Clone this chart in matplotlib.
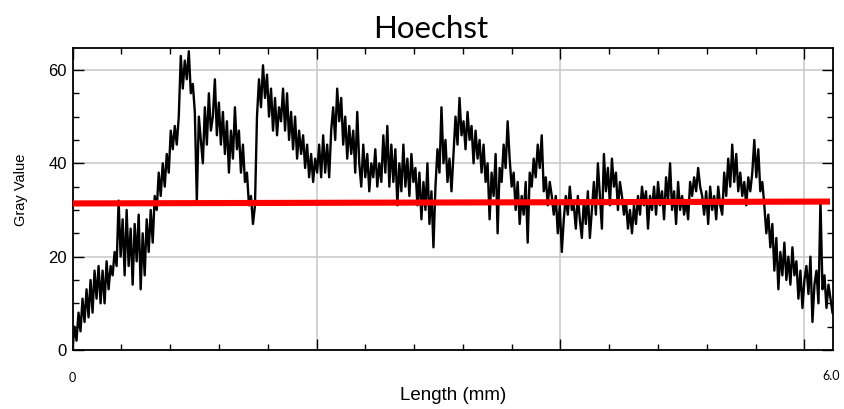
import numpy as np
import matplotlib
matplotlib.use("Agg")
import matplotlib.pyplot as plt
from matplotlib.ticker import MultipleLocator

# Gray value profile in ~2 px steps, split by segment
seg1 = [0.5, 5, 2, 8, 4, 11, 6, 13, 7, 15, 8, 17, 11, 18, 10, 17, 10, 19, 13, 18,
        16, 21, 18, 32, 20, 28, 16, 30, 18, 26, 14, 27, 19, 29, 13, 25, 16, 28, 21, 30,
        23, 33, 30, 38, 33, 40, 35, 42, 38, 47, 43, 48, 44, 50, 63, 56, 62, 58, 64, 55,
        57, 51, 32, 50, 45]
seg2 = [40, 52, 44, 55, 47, 50, 58, 46, 53, 44, 51, 42, 49, 38, 47, 41, 52, 43, 47, 38,
        44, 36, 38, 31, 33, 27, 31, 50, 58, 52, 61, 54, 59, 50, 56, 47, 54, 46, 52, 49,
        56, 47, 55, 45, 51, 43, 50, 41, 47, 42, 46, 39, 44, 37, 42, 36, 41, 38, 44, 37]
seg3 = [46, 38, 44, 37, 47, 52, 45, 56, 49, 54, 44, 50, 41, 48, 42, 47, 38, 51, 40, 35,
        44, 37, 42, 34, 40, 37, 43, 35, 40, 36, 46, 38, 48, 35, 44, 36, 43, 31, 40, 34,
        44, 35, 41, 33, 42, 36, 39, 31, 38, 28, 36, 30, 40, 27, 34, 22, 35, 43, 38, 52,
        40, 45, 36, 41, 34]
seg4 = [42, 50, 44, 54, 46, 49, 43, 51, 45, 48, 40, 47, 41, 45, 38, 44, 36, 40, 28, 38,
        33, 42, 25, 39, 36, 44, 39, 49, 41, 35, 38, 30, 36, 27, 33, 29, 36, 23, 38, 35,
        41, 37, 44, 39, 46, 34, 37, 31, 36, 33, 29, 33, 25, 31, 21, 28, 33, 29, 35, 30]
seg5 = [31, 26, 33, 28, 24, 32, 27, 34, 24, 30, 36, 29, 40, 33, 26, 42, 34, 39, 31, 41,
        35, 38, 30, 36, 33, 29, 32, 26, 30, 25, 31, 27, 33, 29, 35, 31, 34, 26, 33, 30,
        35, 29, 36, 31, 34, 28, 37, 32, 40, 30, 34, 27, 36, 30, 33, 29, 32, 28, 36, 33,
        37, 34, 39, 35, 33]
seg6 = [29, 34, 27, 35, 30, 33, 28, 35, 31, 29, 38, 33, 41, 35, 44, 36, 42, 34, 38, 33,
        36, 31, 37, 34, 38, 45, 37, 43, 34, 36, 31, 25, 29, 22, 27, 17, 24, 13, 21, 16,
        23, 15, 20, 14, 22, 16, 19, 11, 17, 9, 15, 18, 12, 20, 6, 14, 17, 10, 32, 13,
        16, 9, 14, 11, 8]

gray_values = np.array(seg1 + seg2 + seg3 + seg4 + seg5 + seg6, dtype=float)
length_max = 6.0
length_mm = np.linspace(0, length_max, len(gray_values))

# Red threshold line
red_x = [0, 5.98]
red_y = [31.4, 31.8]

title = "Hoechst"
x_label = "Length (mm)"
y_label = "Gray Value"
y_ticks = [0, 20, 40, 60]

fig = plt.figure(figsize=(8.44, 4.09), dpi=100)
ax = fig.add_axes([72.5 / 844, 1 - 350 / 409, 760 / 844, 302 / 409])

ax.plot(length_mm, gray_values, color="black", lw=1.7, zorder=3)
ax.plot(red_x, red_y, color="#ff0000", lw=4.4, solid_capstyle="butt", zorder=4)

ax.set_xlim(0, length_max)
ax.set_ylim(0, 64.7)

major_x = length_max * 244 / 760
ax.xaxis.set_major_locator(MultipleLocator(major_x))
ax.xaxis.set_minor_locator(MultipleLocator(major_x / 5))
ax.yaxis.set_major_locator(MultipleLocator(20))
ax.yaxis.set_minor_locator(MultipleLocator(5))

ax.grid(True, which="major", color="#c8c8c8", lw=1.1, zorder=0)
ax.tick_params(axis="both", which="both", direction="in", top=True, right=True,
               color="black", width=1.0)
ax.tick_params(axis="both", which="major", length=8)
ax.tick_params(axis="both", which="minor", length=4)
ax.tick_params(axis="x", labelbottom=False)
ax.set_yticks(y_ticks)
ax.set_yticklabels([str(v) for v in y_ticks], family="Liberation Sans", fontsize=12)
ax.tick_params(axis="y", pad=4)
for s in ax.spines.values():
    s.set_linewidth(1.3)
    s.set_color("black")

ax.set_ylabel(y_label, family="Liberation Sans", fontsize=10.5)
ax.yaxis.set_label_coords(-44 / 760, 0.53)
fig.text(453 / 844, 1 - 396 / 409, x_label, family="Liberation Sans", fontsize=13.5,
         ha="center", va="center")
fig.text(72 / 844, 1 - 378 / 409, "0", family="Lato", fontsize=9, ha="center", va="center")
fig.text(831 / 844, 1 - 376 / 409, "6.0", family="Lato", fontsize=9, ha="center", va="center")
fig.text(431 / 844, 1 - 29 / 409, title, family="Lato", fontsize=22.5, ha="center", va="center")

fig.savefig("out.png", dpi=100)
